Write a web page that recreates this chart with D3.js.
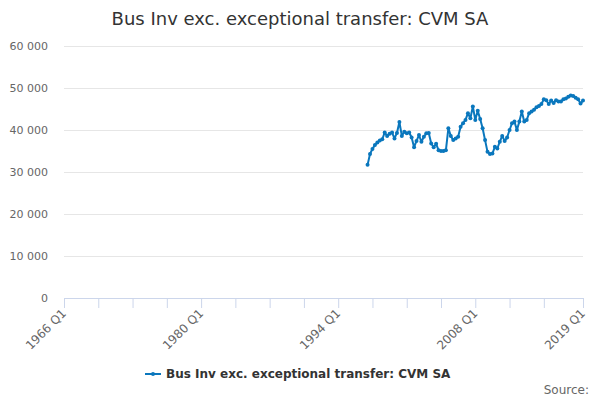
<!DOCTYPE html>
<html><head><meta charset="utf-8">
<script src="https://cdn.jsdelivr.net/npm/d3@7"></script>
<style>body{margin:0;background:#fff}svg{display:block;font-family:"DejaVu Sans",sans-serif}</style>
</head><body><svg id="c" width="600" height="400"></svg>
<script>
const title = "Bus Inv exc. exceptional transfer: CVM SA";
const seriesName = "Bus Inv exc. exceptional transfer: CVM SA";
const firstYear = 1966, lastYear = 2019;
const dataStart = "1997 Q1";
const tickIdx = [0,14,28,42,56,70,84,98,112,126,140,154,168,182,196,212];
const tickLabels = ["1966 Q1","1980 Q1","1994 Q1","2008 Q1","2019 Q1"];
const yTicks = [0,10000,20000,30000,40000,50000,60000];
const values = [
31700,34300,35500,36400,37000,37500,37800,39400,38600,39100,
39400,38000,39300,41900,38600,39600,39200,39400,38200,35900,
37400,38800,37200,38400,39200,39300,36800,35900,36700,35200,
35000,35000,35200,40400,38600,37600,38000,38400,40800,41600,
42400,44000,42800,45600,42400,44600,42600,40400,37600,34800,
34300,34400,36000,35600,37200,38600,37400,38200,40000,41600,
42000,40000,42000,44400,42000,42400,44000,44400,44800,45400,
45700,46200,47300,47100,46200,47000,46400,47100,46800,46800,
47300,47500,47900,48200,48100,47700,47300,46300,47000];

const categories = [];
for (let y = firstYear; y <= lastYear; y++) for (let q = 1; q <= 4; q++) categories.push(y + " Q" + q);
const cats = categories.slice(0, categories.indexOf(lastYear + " Q1") + 1);
const startI = cats.indexOf(dataStart);
const data = values.map((v, i) => ({c: cats[startI + i], v}));

const svg = d3.select("#c");
const L = 64, R = 583, T = 46, B = 298;
const x = d3.scalePoint().domain(cats).range([L, R]);
const y = d3.scaleLinear().domain([0, 60000]).range([B, T]);
const fmt = v => d3.format(",")(v).replace(/,/g, " ");

svg.append("text").attr("x", 300).attr("y", 25).attr("text-anchor", "middle")
  .attr("font-size", 18).attr("fill", "#333").text(title);

const g = svg.append("g");
g.selectAll("line.grid").data(yTicks.filter(d => d > 0)).join("line")
  .attr("x1", L).attr("x2", R).attr("y1", d => y(d) + 0.5).attr("y2", d => y(d) + 0.5)
  .attr("stroke", "#e6e6e6");
g.selectAll("text.yl").data(yTicks).join("text")
  .attr("x", 48).attr("y", d => y(d) + 4).attr("text-anchor", "end")
  .attr("font-size", 11).attr("fill", "#666").text(fmt);

g.append("line").attr("x1", L).attr("x2", R + 1).attr("y1", B + 0.5).attr("y2", B + 0.5).attr("stroke", "#ccd6eb");
g.selectAll("line.tk").data(tickIdx).join("line")
  .attr("x1", d => x(cats[d]) + 0.5).attr("x2", d => x(cats[d]) + 0.5)
  .attr("y1", B).attr("y2", B + 10).attr("stroke", "#ccd6eb");
g.selectAll("text.xl").data(tickLabels).join("text")
  .attr("text-anchor", "end").attr("font-size", 12).attr("fill", "#666")
  .attr("transform", d => `translate(${x(d) + 3},${B + 16}) rotate(-45)`).text(d => d);

const line = d3.line().x(d => x(d.c)).y(d => y(d.v));
g.append("path").datum(data).attr("d", line).attr("fill", "none")
  .attr("stroke", "#0a77bd").attr("stroke-width", 2).attr("stroke-linejoin", "round");
g.selectAll("circle").data(data).join("circle")
  .attr("cx", d => x(d.c)).attr("cy", d => y(d.v)).attr("r", 2).attr("fill", "#0a77bd");

const lg = svg.append("g");
lg.append("line").attr("x1", 145).attr("x2", 161).attr("y1", 374).attr("y2", 374).attr("stroke", "#0a77bd").attr("stroke-width", 2);
lg.append("circle").attr("cx", 153).attr("cy", 374).attr("r", 2).attr("fill", "#0a77bd");
lg.append("text").attr("x", 166).attr("y", 378).attr("font-size", 12).attr("font-weight", "bold")
  .attr("fill", "#333").text(seriesName);

svg.append("text").attr("x", 589).attr("y", 394).attr("text-anchor", "end")
  .attr("font-size", 12).attr("fill", "#666").text("Source:");
</script></body></html>
